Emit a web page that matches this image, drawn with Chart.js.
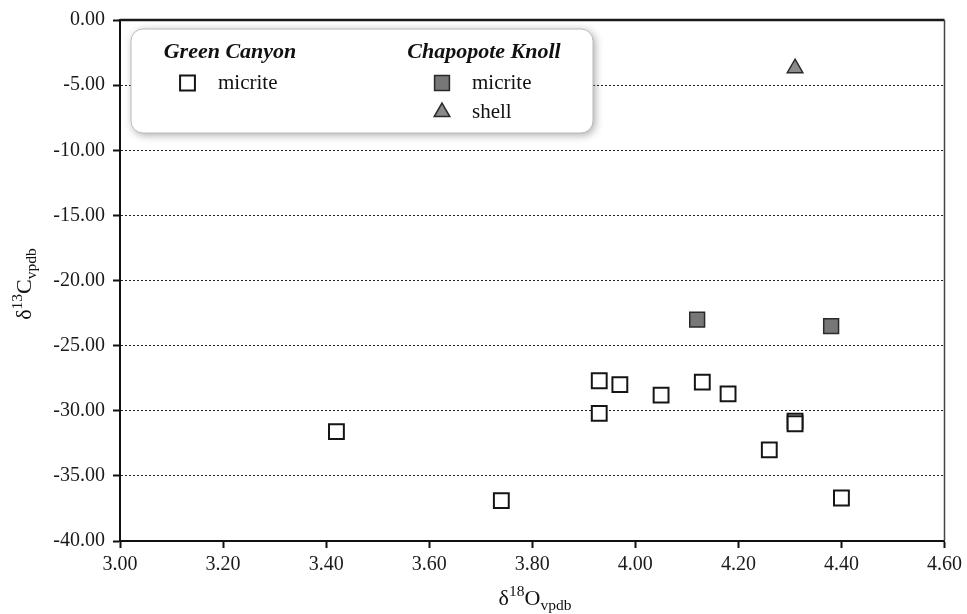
<!DOCTYPE html>
<html>
<head>
<meta charset="utf-8">
<script src="https://cdn.jsdelivr.net/npm/chart.js@4"></script>
<style>
  html, body { margin: 0; padding: 0; background: #fff; }
  #wrap { width: 967px; height: 614px; }
</style>
</head>
<body>
<div id="wrap"><canvas id="myChart" width="967" height="614"></canvas></div>
<script>
"use strict";

// Data (d18O, d13C)
const gcMicriteX = [3.42, 3.74, 3.93, 3.93, 3.97, 4.05, 4.13, 4.18, 4.26, 4.31, 4.31, 4.40];
const gcMicriteY = [-31.6, -36.9, -27.7, -30.2, -28.0, -28.8, -27.8, -28.7, -33.0, -30.8, -31.0, -36.7];
const ckMicriteX = [4.12, 4.38];
const ckMicriteY = [-23.0, -23.5];
const ckShellX = [4.31];
const ckShellY = [-3.7];

const xTicks = [3.0, 3.2, 3.4, 3.6, 3.8, 4.0, 4.2, 4.4, 4.6];
const yTicks = [0, -5, -10, -15, -20, -25, -30, -35, -40];

const serif = "'Liberation Serif', 'DejaVu Serif', serif";

function toPoints(xs, ys) {
    return xs.map((x, i) => ({ x: x, y: ys[i] }));
}

const data = {
    datasets: [
        {
            label: "Green Canyon micrite",
            data: toPoints(gcMicriteX, gcMicriteY),
            pointStyle: "rect",
            pointRadius: 10.5,
            backgroundColor: "#ffffff",
            borderColor: "#151515",
            borderWidth: 2,
        },
        {
            label: "Chapopote Knoll micrite",
            data: toPoints(ckMicriteX, ckMicriteY),
            pointStyle: "rect",
            pointRadius: 10.5,
            backgroundColor: "#777777",
            borderColor: "#2a2a2a",
            borderWidth: 1.5,
        },
        {
            label: "Chapopote Knoll shell",
            data: toPoints(ckShellX, ckShellY),
            pointStyle: "triangle",
            pointRadius: 9,
            backgroundColor: "#8a8a8a",
            borderColor: "#2a2a2a",
            borderWidth: 1.5,
        },
    ],
};

// draws a label with superscript and subscript parts
function drawIsotope(ctx, x, y, sup, main, sub) {
    const big = "22px " + serif;
    const small = "15.5px " + serif;
    ctx.font = big;
    const wD = ctx.measureText("\u03b4").width;
    const wM = ctx.measureText(main).width;
    ctx.font = small;
    const wS = ctx.measureText(sup).width;
    const wB = ctx.measureText(sub).width;
    const total = wD + wS + wM + wB;
    let cx = x - total / 2;
    ctx.textAlign = "left";
    ctx.textBaseline = "alphabetic";
    ctx.font = big;
    ctx.fillText("\u03b4", cx, y);
    cx += wD;
    ctx.font = small;
    ctx.fillText(sup, cx, y - 9);
    cx += wS;
    ctx.font = big;
    ctx.fillText(main, cx, y);
    cx += wM;
    ctx.font = small;
    ctx.fillText(sub, cx, y + 5);
}

const decorations = {
    id: "decorations",
    afterDraw(chart) {
        const ctx = chart.ctx;
        const a = chart.chartArea;
        ctx.save();
        ctx.fillStyle = "#111";

        // top and right frame
        ctx.strokeStyle = "#1a1a1a";
        ctx.lineWidth = 2.5;
        ctx.beginPath();
        ctx.moveTo(a.left, a.top);
        ctx.lineTo(a.right, a.top);
        ctx.stroke();
        ctx.strokeStyle = "#444";
        ctx.lineWidth = 1.5;
        ctx.beginPath();
        ctx.moveTo(a.right, a.top);
        ctx.lineTo(a.right, a.bottom);
        ctx.stroke();

        // axis titles
        drawIsotope(ctx, 535, 605, "18", "O", "vpdb");
        ctx.save();
        ctx.translate(31, 284);
        ctx.rotate(-Math.PI / 2);
        drawIsotope(ctx, 0, 0, "13", "C", "vpdb");
        ctx.restore();

        // legend box
        const bx = 131, by = 29, bw = 462, bh = 104;
        ctx.save();
        ctx.shadowColor = "rgba(0,0,0,0.35)";
        ctx.shadowBlur = 8;
        ctx.shadowOffsetX = 2;
        ctx.shadowOffsetY = 2;
        ctx.fillStyle = "#fff";
        ctx.beginPath();
        ctx.roundRect(bx, by, bw, bh, 12);
        ctx.fill();
        ctx.restore();
        ctx.strokeStyle = "#bbb";
        ctx.lineWidth = 1;
        ctx.beginPath();
        ctx.roundRect(bx, by, bw, bh, 12);
        ctx.stroke();

        ctx.fillStyle = "#111";
        ctx.textBaseline = "middle";
        ctx.textAlign = "center";
        ctx.font = "italic bold 22px " + serif;
        ctx.fillText("Green Canyon", 230, 52);
        ctx.fillText("Chapopote Knoll", 484, 52);

        ctx.textAlign = "left";
        ctx.font = "21px " + serif;
        const ds = chart.data.datasets;
        const items = [
            [ds[0], 187.5, 83, "micrite", 218],
            [ds[1], 442, 83, "micrite", 472],
            [ds[2], 442, 112, "shell", 472],
        ];
        items.forEach(([d, px, py, txt, tx]) => {
            ctx.fillStyle = d.backgroundColor;
            ctx.strokeStyle = d.borderColor;
            ctx.lineWidth = d.borderWidth;
            Chart.helpers.drawPoint(ctx, {
                pointStyle: d.pointStyle,
                radius: d.pointStyle === "rect" ? 10.5 : 9,
                borderWidth: d.borderWidth,
                rotation: 0,
            }, px, py);
            ctx.fillStyle = "#111";
            ctx.fillText(txt, tx, py);
        });
        ctx.restore();
    },
};

const config = {
    type: "scatter",
    data: data,
    plugins: [decorations],
    options: {
        responsive: false,
        animation: false,
        layout: {
            padding: { top: 17, right: 16, left: 0, bottom: 0 },
        },
        plugins: {
            legend: { display: false },
            tooltip: { enabled: false },
        },
        scales: {
            x: {
                type: "linear",
                position: "bottom",
                min: 3.0,
                max: 4.6,
                afterBuildTicks: (scale) => {
                    scale.ticks = xTicks.map((v) => ({ value: v }));
                },
                afterFit: (scale) => {
                    scale.height = 73;
                },
                ticks: {
                    color: "#1a1a1a",
                    font: { family: serif, size: 20 },
                    padding: 5,
                    maxRotation: 0,
                    callback: (v) => Number(v).toFixed(2),
                },
                grid: {
                    drawOnChartArea: false,
                    drawTicks: true,
                    tickLength: 7,
                    tickColor: "#111",
                    tickWidth: 2,
                },
                border: { display: true, color: "#111", width: 2 },
            },
            y: {
                type: "linear",
                min: -40,
                max: 0,
                afterBuildTicks: (scale) => {
                    scale.ticks = yTicks.map((v) => ({ value: v }));
                },
                afterFit: (scale) => {
                    scale.width = 120;
                },
                ticks: {
                    color: "#1a1a1a",
                    font: { family: serif, size: 20 },
                    padding: 8,
                    callback: (v) => Number(v).toFixed(2),
                },
                grid: {
                    color: "#222",
                    lineWidth: 1,
                    drawTicks: true,
                    tickLength: 7,
                    tickColor: "#111",
                    tickWidth: 2,
                    tickBorderDash: [],
                },
                border: { display: true, color: "#111", width: 2, dash: [2, 2] },
            },
        },
    },
};

const myChart = new Chart(document.getElementById("myChart"), config);
</script>
</body>
</html>
